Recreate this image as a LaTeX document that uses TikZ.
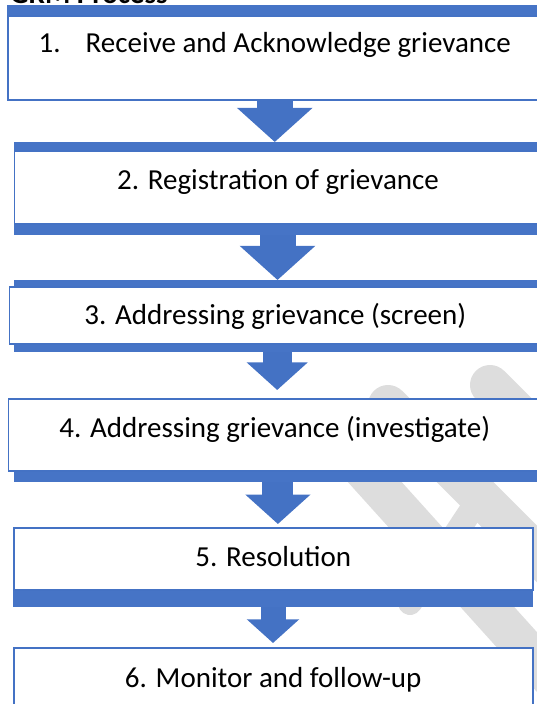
\documentclass[tikz,border=0pt]{standalone}
\usepackage{fontspec}
\setmainfont{Carlito}
\usetikzlibrary{arrows.meta}

\definecolor{grmblue}{HTML}{4472C4}
\definecolor{grmbar}{HTML}{4674C6}
\definecolor{markgray}{HTML}{DDDDDD}

\begin{document}
\begin{tikzpicture}[x=1pt, y=-1pt]
                \tikzstyle{stepbox} = [draw=grmblue, line width=1.5pt, fill=white, anchor=north west, inner sep=0pt]
                \tikzstyle{bar} = [fill=grmbar, anchor=north west, inner sep=0pt, outer sep=0pt]
                \tikzstyle{steptext} = [anchor=base, inner sep=0pt, font=\fontsize{29}{34}\selectfont]
                \tikzstyle{flow} = [grmblue, line width={#1}, -{Triangle[width=0pt 2.05, length=0pt 0.95]}]
                \tikzstyle{watermark} = [markgray, line width=40pt, line cap=round]
                \useasboundingbox (0,0) rectangle (536,704);
                % faint logo behind the steps
                \draw[watermark] (388,405) -- (600,617);
                \draw[watermark] (345,449) -- (600,732);
                \draw[watermark, line width=24pt] (478,500) -- (410,603);
                \draw[watermark] (490,385) -- (600,495);
                \node[anchor=base west, inner sep=0pt, font=\bfseries\fontsize{29}{34}\selectfont] (title) at (10,4) {GRM Process};
                % steps
                \node[bar, minimum width=534pt, minimum height=94pt] (k1) at (7,5) {};
                \node[stepbox, minimum width=534pt, minimum height=84pt] (b1) at (7,15) {};
                \node[bar, minimum width=527pt, minimum height=93pt] (k2) at (14,142) {};
                \node[stepbox, minimum width=527pt, minimum height=73pt] (b2) at (13.7,150) {};
                \node[bar, minimum width=527pt, minimum height=72pt] (k3) at (13.7,280) {};
                \node[stepbox, minimum width=532pt, minimum height=57pt] (b3) at (8.5,286) {};
                \node[bar, minimum width=527pt, minimum height=84pt] (k4) at (14.4,398) {};
                \node[stepbox, minimum width=533pt, minimum height=72pt] (b4) at (7.5,398) {};
                \node[bar, minimum width=520pt, minimum height=80pt] (k5) at (13,527) {};
                \node[stepbox, minimum width=519pt, minimum height=62pt] (b5) at (13,527) {};
                \node[stepbox, minimum width=519pt, minimum height=80pt] (b6) at (13,647) {};
                \node[steptext] (t1) at (b1.north |- 0,52) {1.\hspace{25pt}Receive and Acknowledge grievance};
                \node[steptext] (t2) at (b2.north |- 0,189) {2. Registration of grievance};
                \node[steptext] (t3) at (b3.north |- 0,324) {3. Addressing grievance (screen)};
                \node[steptext] (t4) at (b4.north |- 0,437) {4. Addressing grievance (investigate)};
                \node[steptext] (t5) at (b5.north |- 0,566) {5. Resolution};
                \node[steptext] (t6) at (b6.north |- 0,687) {6. Monitor and follow-up};
                % arrows between steps
                \draw[flow=36pt] (b1.south) -- (b1.south |- k2.north);
                \draw[flow=36pt] (k2.south) -- (k2.south |- k3.north);
                \draw[flow=29pt, shorten >=8pt] (k3.south) -- (k3.south |- b4.north);
                \draw[flow=31pt, shorten >=3pt] (k4.south) -- (k4.south |- b5.north);
                \draw[flow=25pt, shorten >=4pt] (k5.south) -- (k5.south |- b6.north);
            \end{tikzpicture}
\end{document}
